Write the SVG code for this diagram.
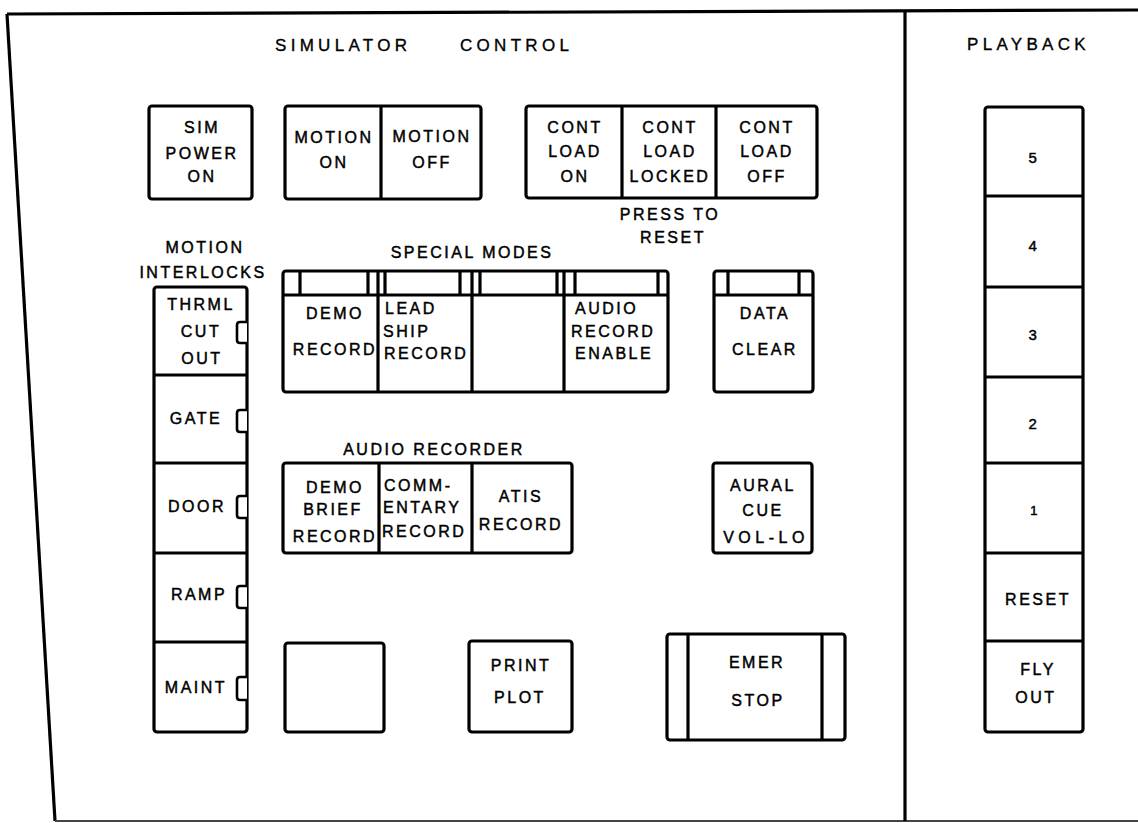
<svg xmlns="http://www.w3.org/2000/svg" width="1138" height="823" viewBox="0 0 1138 823">
<style>
.b{fill:#fff;stroke:#000;stroke-width:3.2;stroke-linejoin:round}
.l{fill:none;stroke:#000;stroke-width:3.2}
.t{font-family:"Liberation Sans",Arial,Helvetica,sans-serif;font-size:16px;letter-spacing:2.5px;fill:#000;stroke:#000;stroke-width:0.45;text-anchor:middle}
.s{text-anchor:start}
.h{font-family:"Liberation Sans",Arial,Helvetica,sans-serif;font-size:17px;letter-spacing:4.3px;fill:#000;stroke:#000;stroke-width:0.35}
.tab{fill:#fff;stroke:#000;stroke-width:2.6}
</style>
<rect width="1138" height="823" fill="#fff"/>
<g id="frame">
<path class="l" d="M7,14 L1138,10" stroke-width="3.5"/>
<path class="l" d="M7,14 L55,821"/>
<path d="M55,821 L1138,821" stroke="#444" stroke-width="2" fill="none"/>
<path class="l" d="M905,10 L905,821"/>
</g>
<g id="titles">
<text class="h" x="275" y="51">SIMULATOR</text>
<text class="h" x="460" y="51">CONTROL</text>
<text class="h" x="967" y="50">PLAYBACK</text>
<text class="t" x="205" y="253">MOTION</text>
<text class="t" x="203" y="278">INTERLOCKS</text>
<text class="t" x="472" y="258">SPECIAL MODES</text>
<text class="t" x="434" y="455">AUDIO RECORDER</text>
<text class="t" x="670" y="220">PRESS TO</text>
<text class="t" x="673" y="243">RESET</text>
</g>
<g id="sim-power-on">
<rect class="b" x="149" y="106" width="103" height="93" rx="3"/>
<text class="t" x="202" y="133">SIM</text>
<text class="t" x="202" y="159">POWER</text>
<text class="t" x="202" y="182">ON</text>
</g>
<g id="motion">
<rect class="b" x="285" y="106" width="196" height="93" rx="3"/>
<path class="l" d="M381,106 V199"/>
<text class="t" x="334" y="143">MOTION</text>
<text class="t" x="334" y="168">ON</text>
<text class="t" x="432" y="142">MOTION</text>
<text class="t" x="432" y="168">OFF</text>
</g>
<g id="cont-load">
<rect class="b" x="526" y="106" width="291" height="92" rx="3"/>
<path class="l" d="M622,106 V198 M716,106 V198"/>
<text class="t" x="575" y="133">CONT</text>
<text class="t" x="575" y="157">LOAD</text>
<text class="t" x="575" y="182">ON</text>
<text class="t" x="670" y="133">CONT</text>
<text class="t" x="670" y="157">LOAD</text>
<text class="t" x="670" y="182">LOCKED</text>
<text class="t" x="767" y="133">CONT</text>
<text class="t" x="767" y="157">LOAD</text>
<text class="t" x="767" y="182">OFF</text>
</g>
<g id="special-modes">
<rect class="b" x="283" y="271" width="385" height="121" rx="3"/>
<path class="l" d="M283,295 H668 M378,271 V392 M472,271 V392 M564,271 V392 M300,271 V295 M368,271 V295 M385,271 V295 M460,271 V295 M480,271 V295 M557,271 V295 M575,271 V295 M658,271 V295"/>
<text class="t" x="335" y="319">DEMO</text>
<text class="t" x="335" y="355">RECORD</text>
<text class="t s" x="385" y="314">LEAD</text>
<text class="t s" x="383" y="337">SHIP</text>
<text class="t s" x="384" y="359">RECORD</text>
<text class="t s" x="575" y="314">AUDIO</text>
<text class="t s" x="571" y="337">RECORD</text>
<text class="t s" x="575" y="359">ENABLE</text>
</g>
<g id="data-clear">
<rect class="b" x="714" y="271" width="99" height="121" rx="3"/>
<path class="l" d="M714,295 H813 M728,271 V295 M799,271 V295"/>
<text class="t" x="765" y="319">DATA</text>
<text class="t" x="765" y="355">CLEAR</text>
</g>
<g id="motion-interlocks">
<rect class="b" x="154" y="287" width="93" height="445" rx="3"/>
<path class="l" d="M154,375 H247 M154,463 H247 M154,553 H247 M154,642 H247"/>
<path class="tab" d="M247,322 H240 Q237,322 237,325 V340 Q237,343 240,343 H247"/>
<path class="tab" d="M247,410 H240 Q237,410 237,413 V429 Q237,432 240,432 H247"/>
<path class="tab" d="M247,496 H240 Q237,496 237,499 V515 Q237,518 240,518 H247"/>
<path class="tab" d="M247,586 H240 Q237,586 237,589 V605 Q237,608 240,608 H247"/>
<path class="tab" d="M247,677 H240 Q237,677 237,680 V697 Q237,700 240,700 H247"/>
<text class="t" x="201" y="310">THRML</text>
<text class="t" x="201" y="337">CUT</text>
<text class="t" x="202" y="364">OUT</text>
<text class="t" x="196" y="424">GATE</text>
<text class="t" x="197" y="512">DOOR</text>
<text class="t" x="199" y="600">RAMP</text>
<text class="t" x="196" y="693">MAINT</text>
</g>
<g id="audio-recorder">
<rect class="b" x="283" y="463" width="289" height="90" rx="3"/>
<path class="l" d="M379,463 V553 M472,463 V553"/>
<text class="t" x="335" y="493">DEMO</text>
<text class="t" x="333" y="515">BRIEF</text>
<text class="t" x="335" y="542">RECORD</text>
<text class="t s" x="384" y="491">COMM-</text>
<text class="t s" x="383" y="513">ENTARY</text>
<text class="t s" x="382" y="537">RECORD</text>
<text class="t" x="521" y="502">ATIS</text>
<text class="t" x="521" y="530">RECORD</text>
</g>
<g id="aural-cue">
<rect class="b" x="713" y="463" width="99" height="90" rx="3"/>
<text class="t" x="763" y="491">AURAL</text>
<text class="t" x="763" y="516">CUE</text>
<text class="t" x="766" y="543" style="letter-spacing:4.5px">VOL-LO</text>
</g>
<g id="blank-button">
<rect class="b" x="285" y="643" width="99" height="89" rx="3"/>
</g>
<g id="print-plot">
<rect class="b" x="469" y="641" width="103" height="91" rx="3"/>
<text class="t" x="521" y="671">PRINT</text>
<text class="t" x="520" y="703">PLOT</text>
</g>
<g id="emer-stop">
<rect class="b" x="667" y="634" width="178" height="106" rx="3"/>
<path class="l" d="M688,634 V740 M822,634 V740"/>
<text class="t" x="757" y="668">EMER</text>
<text class="t" x="758" y="706">STOP</text>
</g>
<g id="playback">
<rect class="b" x="985" y="107" width="98" height="625" rx="3"/>
<path class="l" d="M985,196 H1083 M985,287 H1083 M985,377 H1083 M985,463 H1083 M985,553 H1083 M985,641 H1083"/>
<text class="t" x="1034" y="163" style="font-size:15px">5</text>
<text class="t" x="1034" y="251" style="font-size:15px">4</text>
<text class="t" x="1034" y="340" style="font-size:15px">3</text>
<text class="t" x="1034" y="429" style="font-size:15px">2</text>
<text class="t" x="1035" y="515" style="font-size:13px">1</text>
<text class="t" x="1038" y="605">RESET</text>
<text class="t" x="1038" y="675">FLY</text>
<text class="t" x="1036" y="703">OUT</text>
</g>
<g id="connectors"></g>
</svg>
